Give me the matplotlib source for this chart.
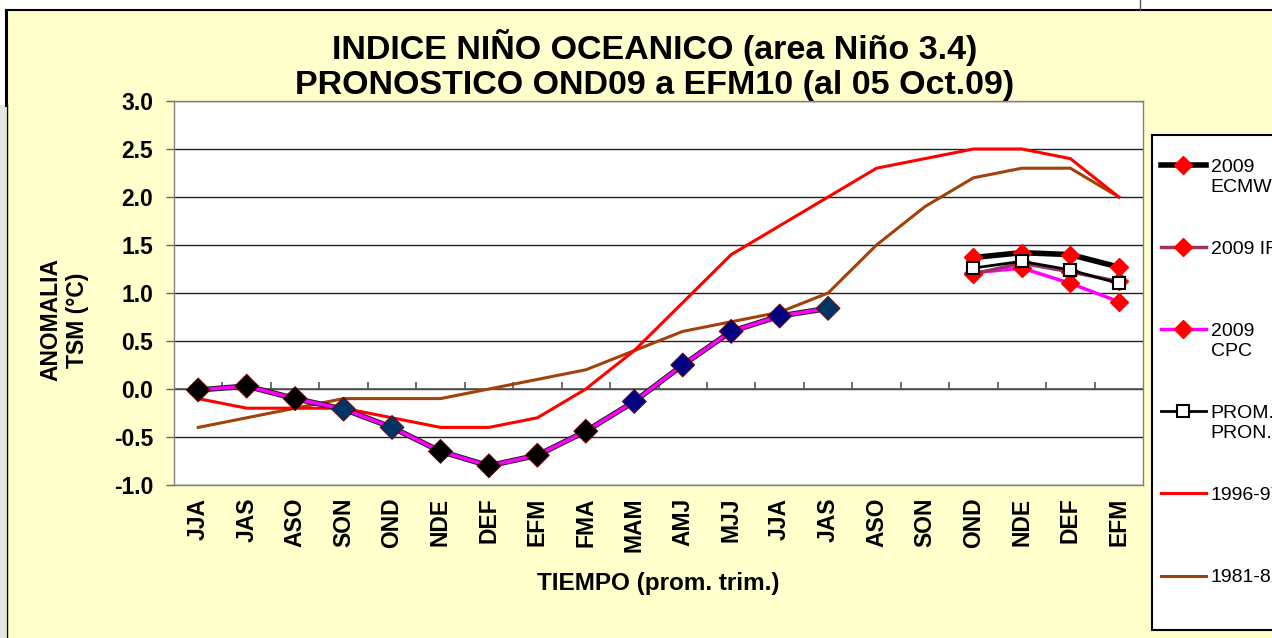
import matplotlib
matplotlib.use('Agg')
import matplotlib.pyplot as plt
from matplotlib.lines import Line2D
from matplotlib.patches import Rectangle
from matplotlib.legend_handler import HandlerLine2D
import matplotlib.patheffects as pe
import numpy as np

plt.rcParams['font.family'] = ['Liberation Sans', 'DejaVu Sans']

categories = ['JJA', 'JAS', 'ASO', 'SON', 'OND', 'NDE', 'DEF', 'EFM', 'FMA', 'MAM',
              'AMJ', 'MJJ', 'JJA', 'JAS', 'ASO', 'SON', 'OND', 'NDE', 'DEF', 'EFM']
nan = np.nan
observed = [-0.01, 0.03, -0.10, -0.21, -0.40, -0.65, -0.80, -0.69, -0.44, -0.13,
            0.25, 0.60, 0.76, 0.84, nan, nan, nan, nan, nan, nan]
observed_colors = ['black', 'black', 'black', '#003366', '#003366', 'black', 'black',
                   'black', 'black', '#000080', '#000080', '#000080', '#000080', '#003366']
ecmwf = [nan] * 16 + [1.37, 1.42, 1.40, 1.27]
iri = [nan] * 16 + [1.20, 1.31, 1.22, 1.12]
cpc = [nan] * 16 + [1.21, 1.26, 1.10, 0.91]
prom = [nan] * 16 + [1.26, 1.33, 1.24, 1.10]
y1996 = [-0.1, -0.2, -0.2, -0.2, -0.3, -0.4, -0.4, -0.3, 0.0, 0.4,
         0.9, 1.4, 1.7, 2.0, 2.3, 2.4, 2.5, 2.5, 2.4, 2.0]
y1981 = [-0.4, -0.3, -0.2, -0.1, -0.1, -0.1, 0.0, 0.1, 0.2, 0.4,
         0.6, 0.7, 0.8, 1.0, 1.5, 1.9, 2.2, 2.3, 2.3, 2.0]
y_ticks = [-1.0, -0.5, 0.0, 0.5, 1.0, 1.5, 2.0, 2.5, 3.0]
legend_labels = ['2009\nECMWF', '2009 IRI', '2009\nCPC', 'PROM.\nPRON.', '1996-97', '1981-82']

W, H = 1272, 638
fig = plt.figure(figsize=(W / 100, H / 100), dpi=100, facecolor='#FFFFCC')

# frame decorations of the slide
fig.add_artist(Rectangle((0, 1 - 10 / H), 1, 10 / H, transform=fig.transFigure,
                         facecolor='white', edgecolor='none', zorder=0))
fig.add_artist(Rectangle((0, 0), 6 / W, 1 - 105 / H, transform=fig.transFigure,
                         facecolor='#E6E6E6', edgecolor='none', zorder=0))
fig.add_artist(Rectangle((0, 1 - 105 / H), 5 / W, 95 / H, transform=fig.transFigure,
                         facecolor='white', edgecolor='none', zorder=0))
fig.add_artist(Line2D([6 / W, 1], [1 - 10 / H, 1 - 10 / H], transform=fig.transFigure,
                      color='black', lw=1.5))
fig.add_artist(Line2D([6 / W, 6 / W], [1 - 10 / H, 1 - 105 / H], transform=fig.transFigure,
                      color='black', lw=2.2))
fig.add_artist(Line2D([7 / W, 7 / W], [1 - 105 / H, 0], transform=fig.transFigure,
                      color='black', lw=1))
fig.add_artist(Line2D([1140 / W, 1140 / W], [1, 1 - 10 / H], transform=fig.transFigure,
                      color='#555555', lw=1))

left, right, top, bottom = 174, 1143, 101, 485
ax = fig.add_axes([left / W, 1 - bottom / H, (right - left) / W, (bottom - top) / H])
ax.set_facecolor('white')
x = np.arange(len(categories))

ax.plot(x, y1981, color='#A0420A', lw=2.2, zorder=3)
ax.plot(x, y1996, color='#FF0000', lw=2.2, zorder=3)

ax.plot(x, observed, color='#FF00FF', lw=2.5, zorder=5,
        path_effects=[pe.Stroke(linewidth=4, foreground='#222222'), pe.Normal()])
n_obs = len(observed_colors)
ax.scatter(x[:n_obs], observed[:n_obs], marker='D', s=150, c=observed_colors,
           edgecolors='#800000', linewidths=0.6, zorder=6)

ax.plot(x, cpc, color='#FF00FF', lw=2.5, marker='D', ms=9, mfc='red', mec='red', zorder=7)
ax.plot(x, iri, color='#993366', lw=2.5, marker='D', ms=9, mfc='red', mec='red', zorder=7)
ax.plot(x, ecmwf, color='black', lw=4, marker='D', ms=9, mfc='red', mec='red', zorder=8)
ax.plot(x, prom, color='black', lw=2, marker='s', ms=8, mfc='white', mec='black',
        mew=1.5, zorder=9)

ax.set_xlim(-0.5, len(categories) - 0.5)
ax.set_ylim(-1.0, 3.0)
ax.set_yticks(y_ticks)
ax.set_yticklabels([f'{v:.1f}' for v in y_ticks], fontsize=16.5, fontweight='bold')
ax.set_xticks(x)
ax.set_xticklabels(categories, rotation=90, fontsize=16.5, fontweight='bold')
ax.tick_params(axis='x', length=0, pad=9)
ax.tick_params(axis='y', length=6, width=1, color='#666666', direction='out', pad=9)
ax.yaxis.grid(True, color='#222222', lw=1)
ax.set_axisbelow(True)
for s in ax.spines.values():
    s.set_color('#808080')
    s.set_linewidth(1)

# category axis at zero with boundary ticks
ax.axhline(0, color='#555555', lw=1.2, zorder=2)
ax.vlines(np.arange(0.5, len(categories) - 0.5, 1), 0, 0.075, color='#555555', lw=1.2, zorder=2)

ax.set_xlabel('TIEMPO (prom. trim.)', fontsize=17.5, fontweight='bold')
ax.xaxis.set_label_coords(0.4995, -0.226)
ax.set_ylabel('ANOMALIA\nTSM (°C)', fontsize=16.5, fontweight='bold', linespacing=1.2)
ax.yaxis.set_label_coords(-0.088, 0.43)

fig.text(655 / W, 1 - 65 / H,
         'INDICE NIÑO OCEANICO (area Niño 3.4)\nPRONOSTICO OND09 a EFM10 (al 05 Oct.09)',
         ha='center', va='center', fontsize=24.5, fontweight='bold', linespacing=1.16)


class FirstLineHandler(HandlerLine2D):
    """Line handler whose key sits level with the first line of the label."""

    def __init__(self, dy, **kw):
        super().__init__(**kw)
        self.dy = dy

    def create_artists(self, legend, orig_handle, xdescent, ydescent, width, height,
                       fontsize, trans):
        arts = super().create_artists(legend, orig_handle, xdescent, ydescent, width,
                                      height, fontsize, trans)
        for a in arts:
            a.set_ydata(np.asarray(a.get_ydata(), dtype=float) + self.dy)
        return arts


# legend
fig.add_artist(Rectangle((1152 / W, 1 - 630 / H), 200 / W, 495 / H, transform=fig.transFigure,
                         facecolor='white', edgecolor='black', lw=1.5, zorder=1))
handles = [
    Line2D([], [], color='black', lw=4, marker='D', ms=9, mfc='red', mec='red'),
    Line2D([], [], color='#993366', lw=2.5, marker='D', ms=9, mfc='red', mec='red'),
    Line2D([], [], color='#FF00FF', lw=2.5, marker='D', ms=9, mfc='red', mec='red'),
    Line2D([], [], color='black', lw=2, marker='s', ms=8, mfc='white', mec='black', mew=1.5),
    Line2D([], [], color='#FF0000', lw=2.2),
    Line2D([], [], color='#A0420A', lw=2.2),
]
# every entry laid out as two text lines so that rows are evenly spaced
labels_2line = [lab if '\n' in lab else lab + '\n ' for lab in legend_labels]
leg = fig.legend(handles, labels_2line, loc='upper left',
                 bbox_to_anchor=(1161 / W, 1 - 159 / H), bbox_transform=fig.transFigure,
                 frameon=False, fontsize=14, handlelength=2.3, handletextpad=0.26,
                 labelspacing=2.34, borderpad=0, borderaxespad=0,
                 handler_map={Line2D: FirstLineHandler(8.6)})
leg.set_zorder(2)

fig.savefig('out.png', dpi=100, facecolor=fig.get_facecolor())
